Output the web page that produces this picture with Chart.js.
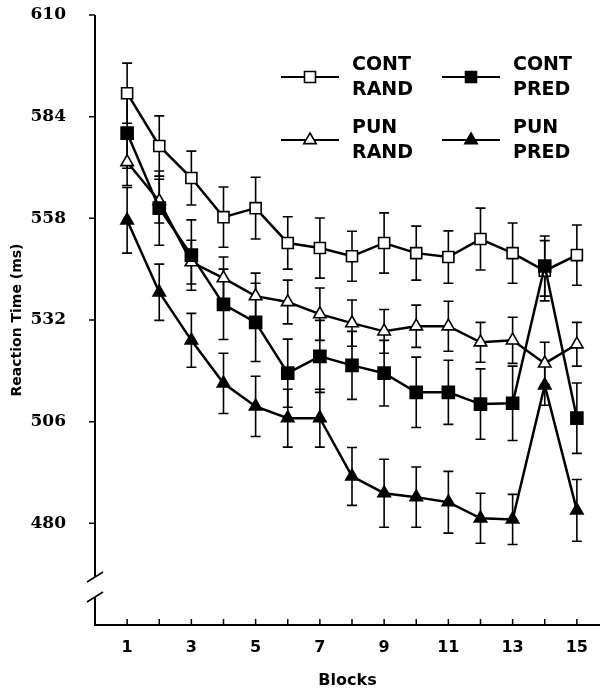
<!DOCTYPE html>
<html>
<head>
<meta charset="utf-8">
<script src="https://cdn.jsdelivr.net/npm/chart.js"></script>
<style>
  html, body { margin: 0; padding: 0; background: #fff; }
  canvas { display: block; }
</style>
</head>
<body>
<canvas id="myChart" width="604" height="692"></canvas>
<script>
// data
const blocks = [1, 2, 3, 4, 5, 6, 7, 8, 9, 10, 11, 12, 13, 14, 15]
const contRand = [590.0, 576.5, 568.3, 558.3, 560.6, 551.7, 550.4, 548.3, 551.7, 549.1, 548.1, 552.7, 549.1, 544.6, 548.6]
const contRandErr = [7.7, 7.7, 6.9, 7.7, 7.9, 6.7, 7.7, 6.4, 7.7, 6.9, 6.7, 7.9, 7.7, 7.7, 7.7]
const contPred = [579.8, 560.6, 548.6, 536.0, 531.4, 518.4, 522.7, 520.4, 518.4, 513.5, 513.5, 510.5, 510.7, 545.8, 506.9]
const contPredErr = [9.0, 9.5, 9.0, 9.0, 10.0, 8.7, 9.2, 8.7, 8.4, 9.0, 8.2, 9.0, 9.5, 7.7, 9.0]
const punRand = [572.4, 562.4, 546.8, 542.7, 538.1, 536.6, 533.5, 531.2, 529.1, 530.4, 530.4, 526.3, 526.8, 520.9, 525.8]
const punRandErr = [6.0, 5.6, 5.6, 5.4, 5.9, 5.6, 6.7, 5.9, 5.6, 5.4, 6.4, 5.1, 5.9, 5.4, 5.6]
const punPred = [557.5, 539.1, 526.8, 515.8, 509.9, 506.9, 506.9, 492.0, 487.7, 486.7, 485.4, 481.3, 481.0, 515.3, 483.3]
const punPredErr = [8.4, 7.2, 6.9, 7.7, 7.7, 7.4, 7.4, 7.4, 8.7, 7.7, 7.9, 6.4, 6.4, 5.1, 7.9]
const xTicks = [1, 3, 5, 7, 9, 11, 13, 15]
const yTicks = [480, 506, 532, 558, 584, 610]

const sans = '"DejaVu Sans", sans-serif'
const serif = '"DejaVu Serif", serif'

const toPoints = vals => vals.map((v, i) => ({ x: blocks[i], y: v }))

const makeSet = (label, vals, err, style, filled) => ({
  label,
  data: toPoints(vals),
  err,
  order: filled ? 0 : 1,
  borderColor: '#000',
  borderWidth: 2.5,
  pointStyle: style,
  pointRadius: style === 'rect' ? (filled ? 8.5 : 7.8) : 7.2,
  pointBorderWidth: 1.6,
  pointBackgroundColor: filled ? '#000' : '#fff',
  pointBorderColor: '#000',
  tension: 0,
  fill: false
})

// error bars under the lines
const errorBars = {
  id: 'errorBars',
  beforeDatasetsDraw(chart) {
    const { ctx, scales: { x, y } } = chart
    ctx.save()
    ctx.strokeStyle = '#000'
    ctx.lineWidth = 1.6
    chart.data.datasets.forEach(ds => {
      ds.data.forEach((p, i) => {
        const px = x.getPixelForValue(p.x)
        const top = y.getPixelForValue(p.y + ds.err[i])
        const bot = y.getPixelForValue(p.y - ds.err[i])
        ctx.beginPath()
        ctx.moveTo(px, top); ctx.lineTo(px, bot)
        ctx.moveTo(px - 5, top); ctx.lineTo(px + 5, top)
        ctx.moveTo(px - 5, bot); ctx.lineTo(px + 5, bot)
        ctx.stroke()
      })
    })
    ctx.restore()
  }
}

// axis lines, break marks, ticks and legend
const frame = {
  id: 'frame',
  afterDraw(chart) {
    const { ctx, chartArea: { left, right, top, bottom }, scales: { x, y } } = chart
    ctx.save()
    ctx.strokeStyle = '#000'
    ctx.lineWidth = 2
    ctx.lineCap = 'butt'
    const b1 = bottom - 48, b2 = bottom - 28
    ctx.beginPath()
    ctx.moveTo(left, top); ctx.lineTo(left, b1)
    ctx.moveTo(left, b2); ctx.lineTo(left, bottom)
    ctx.lineTo(right, bottom)
    ctx.stroke()
    ctx.lineWidth = 1.5
    ctx.beginPath()
    ctx.moveTo(left - 8, b1 + 5); ctx.lineTo(left + 8, b1 - 5)
    ctx.moveTo(left - 8, b2 + 5); ctx.lineTo(left + 8, b2 - 5)
    // y ticks (outside)
    yTicks.forEach(v => {
      const py = y.getPixelForValue(v)
      ctx.moveTo(left - 6, py); ctx.lineTo(left, py)
    })
    // x ticks (inside)
    blocks.forEach(b => {
      const px = x.getPixelForValue(b)
      ctx.moveTo(px, bottom); ctx.lineTo(px, bottom - 6)
    })
    ctx.stroke()

    // legend
    const items = [
      { text: ['CONT', 'RAND'], style: 'rect', filled: false, x: 281, y: 77 },
      { text: ['CONT', 'PRED'], style: 'rect', filled: true, x: 442, y: 77 },
      { text: ['PUN', 'RAND'], style: 'triangle', filled: false, x: 281, y: 140 },
      { text: ['PUN', 'PRED'], style: 'triangle', filled: true, x: 442, y: 140 }
    ]
    items.forEach(it => {
      ctx.lineWidth = 2.2
      ctx.beginPath()
      ctx.moveTo(it.x, it.y); ctx.lineTo(it.x + 58, it.y)
      ctx.stroke()
      const mx = it.x + 29
      ctx.lineWidth = 1.6
      ctx.fillStyle = it.filled ? '#000' : '#fff'
      ctx.beginPath()
      if (it.style === 'rect') {
        ctx.rect(mx - 5.5, it.y - 5.5, 11, 11)
      } else {
        ctx.moveTo(mx, it.y - 7)
        ctx.lineTo(mx + 6.2, it.y + 3.6)
        ctx.lineTo(mx - 6.2, it.y + 3.6)
        ctx.closePath()
      }
      ctx.fill(); ctx.stroke()
      ctx.fillStyle = '#000'
      ctx.font = 'bold 19px ' + sans
      ctx.textAlign = 'left'
      ctx.textBaseline = 'middle'
      ctx.fillText(it.text[0], it.x + 71, it.y - 12)
      ctx.fillText(it.text[1], it.x + 71, it.y + 13)
    })
    ctx.restore()
  }
}

const ctx = document.querySelector('#myChart').getContext('2d')
const myChart = new Chart(ctx, {
  type: 'line',
  data: {
    datasets: [
      makeSet('CONT RAND', contRand, contRandErr, 'rect', false),
      makeSet('CONT PRED', contPred, contPredErr, 'rect', true),
      makeSet('PUN RAND', punRand, punRandErr, 'triangle', false),
      makeSet('PUN PRED', punPred, punPredErr, 'triangle', true)
    ]
  },
  options: {
    responsive: false,
    animation: false,
    devicePixelRatio: 1,
    layout: { autoPadding: false, padding: { top: 15, right: 4, left: 0, bottom: 0 } },
    plugins: { legend: { display: false }, tooltip: { enabled: false } },
    scales: {
      x: {
        type: 'linear',
        min: 0,
        max: 15.72,
        afterBuildTicks: s => { s.ticks = xTicks.map(v => ({ value: v })) },
        afterFit: s => { s.height = 67; s.paddingLeft = 0; s.paddingRight = 0 },
        ticks: {
          autoSkip: false,
          maxRotation: 0,
          padding: 13,
          color: '#000',
          font: { family: sans, size: 16, weight: 'bold' }
        },
        grid: { display: false, drawTicks: false },
        border: { display: false },
        title: {
          display: true,
          text: 'Blocks',
          color: '#000',
          font: { family: sans, size: 16, weight: 'bold' },
          padding: { top: 0, bottom: 2 }
        }
      },
      y: {
        min: 454,
        max: 610,
        afterBuildTicks: s => { s.ticks = yTicks.map(v => ({ value: v })) },
        afterFit: s => { s.width = 95; s.paddingTop = 0; s.paddingBottom = 0 },
        ticks: {
          padding: 29,
          color: '#000',
          font: { family: serif, size: 17, weight: 'bold' }
        },
        grid: { display: false, drawTicks: false },
        border: { display: false },
        title: {
          display: true,
          text: 'Reaction Time (ms)',
          color: '#000',
          font: { family: sans, size: 14, weight: 'bold' },
          padding: { top: 9, bottom: 0 }
        }
      }
    }
  },
  plugins: [errorBars, frame]
})
</script>
</body>
</html>
